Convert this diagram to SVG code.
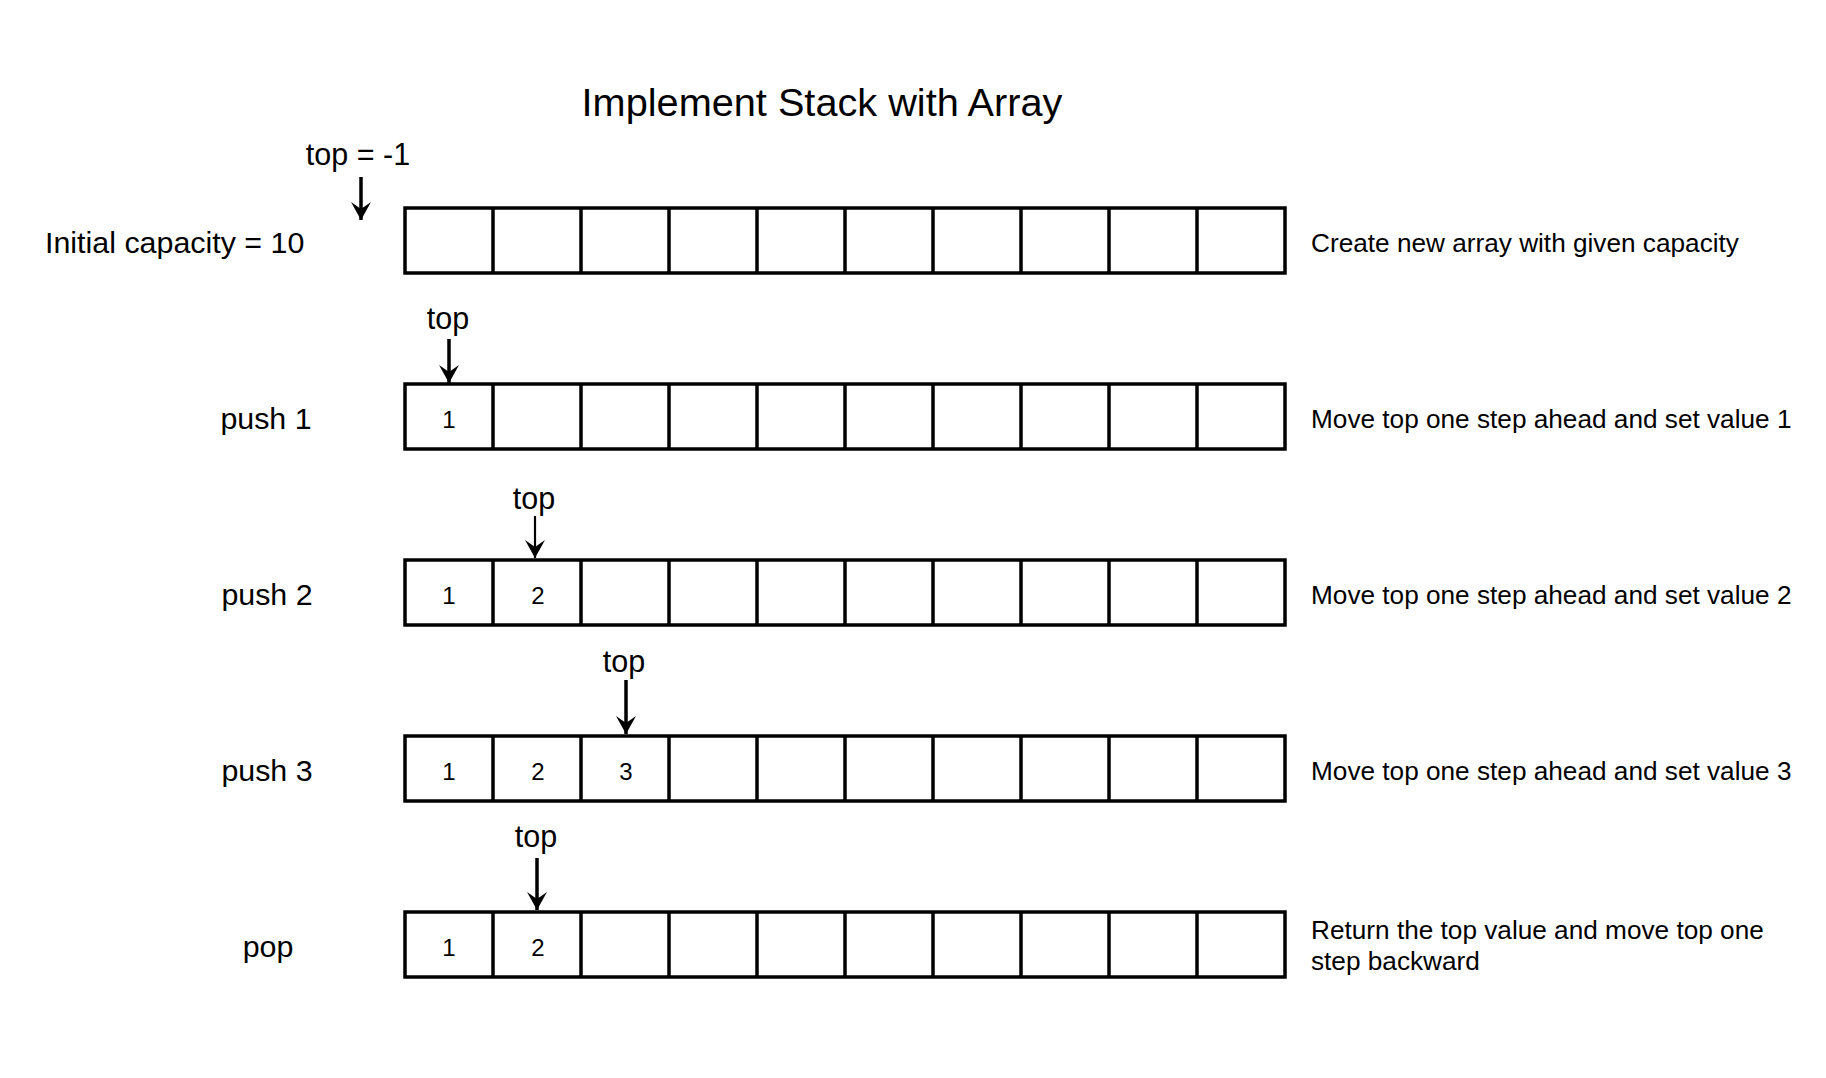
<svg xmlns="http://www.w3.org/2000/svg" width="1826" height="1078" viewBox="0 0 1826 1078">
<style>
text{font-family:"Liberation Sans",Arial,sans-serif;fill:#000}
.title{font-size:39.7px;text-anchor:middle}
.lbl{font-size:30.4px}
.mid{text-anchor:middle}
.ptr{font-size:30.5px;text-anchor:middle}
.desc{font-size:26.2px}
.num{font-size:24px;text-anchor:middle}
.cell{fill:#fff;stroke:#000;stroke-width:3.5}
.div{stroke:#000;stroke-width:3.5}
.arr{stroke:#000;stroke-width:3.5;fill:none;marker-end:url(#ah)}
.arr.thin{stroke-width:2.2}
</style>
<defs>
<marker id="ah" markerUnits="userSpaceOnUse" markerWidth="22" markerHeight="20" viewBox="0 0 22 20" refX="18" refY="10" orient="auto">
<path d="M18,10 L0,0 L7,10 L0,20 Z" fill="#000"/>
</marker>
<g id="arr10">
<rect x="0" y="0" width="880" height="65" class="cell"/>
<path class="div" d="M88,0V65M176,0V65M264,0V65M352,0V65M440,0V65M528,0V65M616,0V65M704,0V65M792,0V65"/>
</g>
</defs>
<rect width="1826" height="1078" fill="#fff"/>
<g id="title"><text class="title" x="822" y="116">Implement Stack with Array</text></g>

<g id="row-init">
<text class="lbl" x="45" y="253">Initial capacity = 10</text>
<use href="#arr10" x="405" y="208"/>
<text class="desc" x="1311" y="252">Create new array with given capacity</text>
<text class="ptr" x="358" y="165">top = -1</text>
</g>

<g id="row-push1">
<text class="lbl mid" x="266" y="429">push 1</text>
<use href="#arr10" x="405" y="384"/>
<text class="num" x="449" y="428">1</text>
<text class="desc" x="1311" y="428">Move top one step ahead and set value 1</text>
<text class="ptr" x="448" y="329">top</text>
</g>

<g id="row-push2">
<text class="lbl mid" x="267" y="605">push 2</text>
<use href="#arr10" x="405" y="560"/>
<text class="num" x="449" y="604">1</text>
<text class="num" x="538" y="604">2</text>
<text class="desc" x="1311" y="604">Move top one step ahead and set value 2</text>
<text class="ptr" x="534" y="509">top</text>
</g>

<g id="row-push3">
<text class="lbl mid" x="267" y="781">push 3</text>
<use href="#arr10" x="405" y="736"/>
<text class="num" x="449" y="780">1</text>
<text class="num" x="538" y="780">2</text>
<text class="num" x="626" y="780">3</text>
<text class="desc" x="1311" y="780">Move top one step ahead and set value 3</text>
<text class="ptr" x="624" y="672">top</text>
</g>

<g id="row-pop">
<text class="lbl mid" x="268" y="957">pop</text>
<use href="#arr10" x="405" y="912"/>
<text class="num" x="449" y="956">1</text>
<text class="num" x="538" y="956">2</text>
<text class="desc" x="1311" y="939">Return the top value and move top one</text>
<text class="desc" x="1311" y="970">step backward</text>
<text class="ptr" x="536" y="847">top</text>
</g>

<g id="connectors">
<path class="arr" d="M361,177V220"/>
<path class="arr" d="M449,339V383"/>
<path class="arr thin" d="M535,516V558"/>
<path class="arr" d="M626,680V734"/>
<path class="arr" d="M537,858V910"/>
</g>
</svg>
